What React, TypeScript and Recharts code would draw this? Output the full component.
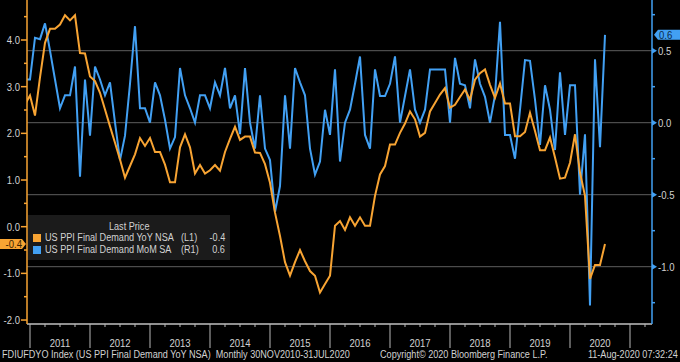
import React from 'react';
import { LineChart, Line, XAxis, YAxis, ReferenceLine } from 'recharts';

// Monthly observations, Nov 2010 .. Jul 2020
const yoyValues = [
  2.62, 2.81, 2.38, 3.2, 3.94, 4.24, 4.24, 4.33, 4.53, 4.42,
  4.53, 3.72, 3.71, 3.22, 3.12, 2.87, 2.51, 2.15, 1.8, 1.44,
  1.05, 1.3, 1.55, 1.9, 1.73, 1.9, 1.6, 1.6, 1.33, 0.95,
  0.95, 1.7, 1.98, 1.7, 1.14, 1.32, 1.14, 1.21, 1.32, 1.2,
  1.6, 1.88, 2.14, 1.86, 1.93, 1.93, 1.59, 1.58, 1.34, 0.94,
  0.3, -0.2, -0.76, -1.05, -0.76, -0.5, -0.74, -0.95, -1.05, -1.41,
  -1.23, -1.05, 0.02, 0.12, -0.07, 0.2, 0.02, 0.2, 0.02, 0.02,
  0.66, 1.12, 1.3, 1.76, 1.76, 2.01, 2.21, 2.47, 2.3, 1.93,
  2.01, 2.47, 2.65, 2.83, 2.97, 2.55, 2.61, 2.78, 2.94, 2.72,
  3.15, 3.29, 3.37, 3.04, 2.76, 3.07, 2.64, 2.64, 1.94, 1.94,
  2.03, 2.44, 2.05, 1.64, 1.64, 1.91, 1.48, 1.03, 1.05, 1.37,
  1.98, 1.16, 0.66, -1.12, -0.82, -0.82, -0.37,
];

const momValues = [
  0.3, 0.3, 0.59, 0.58, 0.69, 0.5, 0.3, 0.1, 0.19, 0.19,
  0.39, -0.375, 0.3, -0.09, 0.39, 0.3, 0.19, 0.28, 0.0, -0.26,
  -0.09, 0.27, 0.67, 0.1, 0.1, 0.0, 0.28, 0.19, 0.02, -0.18,
  -0.1, 0.38, 0.19, 0.1, 0.0, 0.19, 0.19, 0.1, 0.28, 0.19,
  0.38, 0.1, 0.19, -0.08, 0.38, 0.0, -0.18, 0.19, -0.18, -0.26,
  -0.62, -0.44, 0.19, -0.18, 0.38, 0.28, 0.19, -0.18, -0.36, -0.27,
  0.09, -0.085, 0.37, -0.27, 0.0, 0.09, 0.27, 0.46, -0.085, -0.18,
  0.37, 0.185, 0.185, 0.27, 0.46, 0.0, 0.185, 0.37, 0.09, 0.0,
  0.09, 0.37, 0.37, 0.37, 0.37, 0.0, 0.45, 0.27, 0.26, 0.1,
  0.44, 0.27, 0.18, 0.0, 0.19, 0.7, -0.085, -0.085, -0.25, 0.09,
  0.435, 0.43, 0.16, -0.155, 0.26, 0.09, -0.19, 0.35, -0.085, 0.26,
  0.26, -0.5, -0.08, -1.27, 0.44, -0.17, 0.61,
];

const yearLabels = ['2011', '2012', '2013', '2014', '2015', '2016', '2017', '2018', '2019', '2020'];
const leftTicks = [-2, -1.5, -1, -0.5, 0, 0.5, 1, 1.5, 2, 2.5, 3, 3.5, 4, 4.5];
const rightTicks = [-1.25, -1, -0.75, -0.5, -0.25, 0, 0.25, 0.5, 0.75];
const gridValues = [0.5, 0, -0.5, -1];

const ORANGE = '#F8A433';
const BLUE = '#42A0F3';
const TEXT = '#d2d2d2';
const FONT = "'Liberation Sans', Arial, sans-serif";
const SX = 0.91; // horizontal squeeze of the narrow terminal font

// month index t: 0 = Nov 2010 (t = 1 is Dec 2010, the year boundary)
const monthNames = ['JAN', 'FEB', 'MAR', 'APR', 'MAY', 'JUN', 'JUL', 'AUG', 'SEP', 'OCT', 'NOV', 'DEC'];
const data = yoyValues.map((v, t) => {
  const m = (10 + t) % 12;
  const y = 2010 + Math.floor((10 + t) / 12);
  return { t, month: `${monthNames[m]}${y}`, yoy: v, mom: momValues[t] };
});

const xTicks: number[] = [];
for (let t = 1; t <= 125; t += 3) xTicks.push(t);

const SText = ({ x, y, anchor, fill, size, children }: any) => (
  <text
    transform={`translate(${x},${y}) scale(${SX},1)`}
    x={0}
    y={0}
    textAnchor={anchor}
    fill={fill}
    fontSize={size}
    fontFamily={FONT}
  >
    {children}
  </text>
);

const XTick = (props: any) => {
  const { x, y, payload } = props;
  const t = payload.value as number;
  const major = (t - 1) % 12 === 0;
  const yearIdx = (t - 7) / 12;
  const label = Number.isInteger(yearIdx) && yearIdx >= 0 && yearIdx < yearLabels.length ? yearLabels[yearIdx] : null;
  return (
    <g>
      <line x1={x} x2={x} y1={y} y2={y + (major ? 24 : 3)} stroke="#b8b8b8" strokeWidth={1} />
      {label && (
        <SText x={x} y={y + 23} anchor="middle" fill={TEXT} size={10.5}>
          {label}
        </SText>
      )}
    </g>
  );
};

const LeftTick = (props: any) => {
  const { x, y, payload } = props;
  const v = payload.value as number;
  const major = Number.isInteger(v);
  return (
    <g>
      <line x1={x - (major ? 6 : 3)} x2={x} y1={y} y2={y} stroke={ORANGE} strokeWidth={1.5} />
      {major && (
        <SText x={x - 7} y={y + 4} anchor="end" fill={TEXT} size={10.5}>
          {v.toFixed(1)}
        </SText>
      )}
    </g>
  );
};

const RightTick = (props: any) => {
  const { x, y, payload } = props;
  const v = payload.value as number;
  const major = Math.abs(v * 2 - Math.round(v * 2)) < 1e-6;
  return (
    <g>
      {major ? (
        <polygon points={`${x},${y - 3} ${x + 5},${y} ${x},${y + 3}`} fill={BLUE} />
      ) : (
        <line x1={x} x2={x + 3} y1={y} y2={y} stroke={BLUE} strokeWidth={1.5} />
      )}
      {major && (
        <SText x={x + 6} y={y + 4} anchor="start" fill={TEXT} size={10.5}>
          {v.toFixed(1)}
        </SText>
      )}
    </g>
  );
};

const lastYoy = yoyValues[yoyValues.length - 1];
const lastMom = momValues[momValues.length - 1];

const LeftBox = (props: any) => {
  const vb = props.viewBox;
  if (!vb) return null;
  const x = vb.x;
  const y = vb.y;
  return (
    <g>
      <polygon points={`0,${y - 5} ${x - 5},${y - 5} ${x - 1},${y} ${x - 5},${y + 5} 0,${y + 5}`} fill={ORANGE} />
      <SText x={x - 5} y={y + 4} anchor="end" fill="#3a2300" size={10.5}>
        {lastYoy.toFixed(1)}
      </SText>
    </g>
  );
};

const RightBox = (props: any) => {
  const vb = props.viewBox;
  if (!vb) return null;
  const x = vb.x + vb.width;
  const y = vb.y;
  return (
    <g>
      <polygon points={`${x + 2},${y} ${x + 6},${y - 5} 680,${y - 5} 680,${y + 5} ${x + 6},${y + 5}`} fill={BLUE} />
      <SText x={x + 7} y={y + 4} anchor="start" fill="#0b2a4a" size={10.5}>
        {lastMom.toFixed(1)}
      </SText>
    </g>
  );
};

const Sq = ({ children, origin = 'left' }: any) => (
  <span style={{ display: 'inline-block', transform: `scaleX(${SX})`, transformOrigin: origin, whiteSpace: 'nowrap' }}>{children}</span>
);

export default function App() {
  return (
    <div style={{ position: 'fixed', left: 0, top: 0, width: 680, height: 362, background: '#000', overflow: 'hidden', fontFamily: FONT }}>
      <LineChart width={680} height={362} data={data} margin={{ top: 0, right: 0, bottom: 0, left: 0 }}>
        <XAxis
          dataKey="t"
          type="number"
          domain={[0.4, 125.4]}
          allowDataOverflow
          ticks={xTicks}
          interval={0}
          tick={<XTick />}
          tickLine={false}
          tickSize={0}
          tickMargin={0}
          height={38}
          axisLine={{ stroke: '#c0c0c0', strokeWidth: 1.5 }}
        />
        <YAxis
          yAxisId="L"
          orientation="left"
          width={27}
          domain={[-2.085, 4.857]}
          allowDataOverflow
          ticks={leftTicks}
          interval={0}
          tick={<LeftTick />}
          tickLine={false}
          tickSize={0}
          tickMargin={0}
          axisLine={{ stroke: ORANGE, strokeWidth: 1.5 }}
        />
        <YAxis
          yAxisId="R"
          orientation="right"
          width={28}
          domain={[-1.398, 0.852]}
          allowDataOverflow
          ticks={rightTicks}
          interval={0}
          tick={<RightTick />}
          tickLine={false}
          tickSize={0}
          tickMargin={0}
          axisLine={{ stroke: BLUE, strokeWidth: 1.5 }}
        />
        {gridValues.map((g) => (
          <ReferenceLine key={g} yAxisId="R" y={g} stroke="#5e5e5e" strokeWidth={1} />
        ))}
        <Line yAxisId="R" type="linear" dataKey="mom" stroke={BLUE} strokeWidth={2} dot={false} isAnimationActive={false} />
        <Line yAxisId="L" type="linear" dataKey="yoy" stroke={ORANGE} strokeWidth={2} dot={false} isAnimationActive={false} />
        <ReferenceLine yAxisId="L" y={lastYoy} stroke="none" strokeOpacity={0} label={(p: any) => <LeftBox {...p} />} />
        <ReferenceLine yAxisId="R" y={lastMom} stroke="none" strokeOpacity={0} label={(p: any) => <RightBox {...p} />} />
      </LineChart>

      <div style={{ position: 'absolute', left: 28, top: 215, width: 202, height: 45, background: '#1b1b1b', color: TEXT, fontSize: 10, lineHeight: '12px' }}>
        <div style={{ position: 'absolute', left: 0, width: 202, top: 6, textAlign: 'center' }}><Sq origin="center">Last Price</Sq></div>
        <div style={{ position: 'absolute', left: 5, top: 19, width: 8, height: 8, background: ORANGE }} />
        <div style={{ position: 'absolute', left: 17, top: 17 }}><Sq>US PPI Final Demand YoY NSA</Sq></div>
        <div style={{ position: 'absolute', left: 153, top: 17 }}><Sq>(L1)</Sq></div>
        <div style={{ position: 'absolute', right: 5, top: 17 }}><Sq origin="right">{lastYoy.toFixed(1)}</Sq></div>
        <div style={{ position: 'absolute', left: 5, top: 31, width: 8, height: 8, background: BLUE }} />
        <div style={{ position: 'absolute', left: 17, top: 29 }}><Sq>US PPI Final Demand MoM SA</Sq></div>
        <div style={{ position: 'absolute', left: 153, top: 29 }}><Sq>(R1)</Sq></div>
        <div style={{ position: 'absolute', right: 5, top: 29 }}><Sq origin="right">{lastMom.toFixed(1)}</Sq></div>
      </div>

      <div style={{ position: 'absolute', left: 2, top: 349, color: TEXT, fontSize: 10, lineHeight: '12px' }}>
        <Sq>FDIUFDYO Index (US PPI Final Demand YoY NSA)&nbsp;&nbsp;Monthly 30NOV2010-31JUL2020</Sq>
      </div>
      <div style={{ position: 'absolute', left: 380, top: 349, color: TEXT, fontSize: 10, lineHeight: '12px' }}>
        <Sq>Copyright© 2020 Bloomberg Finance L.P.</Sq>
      </div>
      <div style={{ position: 'absolute', right: 2, top: 349, color: TEXT, fontSize: 10, lineHeight: '12px' }}>
        <Sq origin="right">11-Aug-2020 07:32:24</Sq>
      </div>
    </div>
  );
}
